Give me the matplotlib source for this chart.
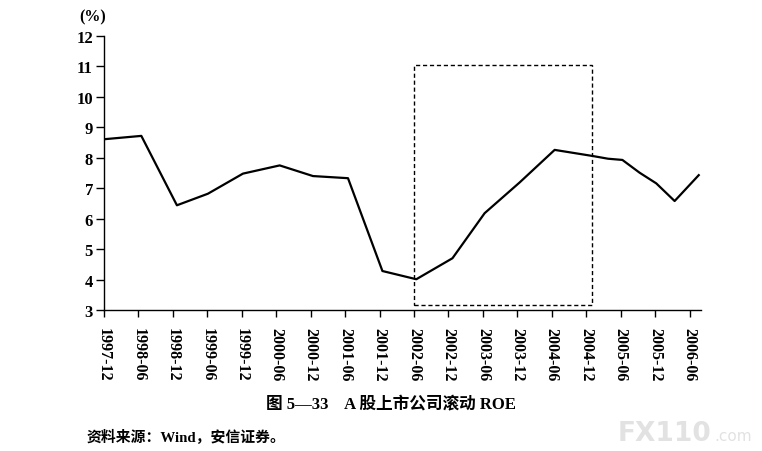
import matplotlib.pyplot as plt
from matplotlib.patches import Rectangle

plt.rcParams['font.family'] = ['Liberation Serif', 'Noto Sans CJK SC']

# x 轴：从 1997-12 起的月数
tick_labels = ['1997-12', '1998-06', '1998-12', '1999-06', '1999-12', '2000-06',
               '2000-12', '2001-06', '2001-12', '2002-06', '2002-12', '2003-06',
               '2003-12', '2004-06', '2004-12', '2005-06', '2005-12', '2006-06']
tick_months = [6 * i for i in range(len(tick_labels))]

months = [0, 6.5, 12.7, 18.1, 24.2, 30.6, 36.4, 42.5, 48.5, 54.4, 60.7, 66.3,
          72.4, 78.5, 85.1, 87.8, 90.3, 93.3, 96.2, 99.4, 103.6]
roe = [8.61, 8.72, 6.44, 6.82, 7.48, 7.75, 7.40, 7.33, 4.28, 4.01, 4.70, 6.18,
       7.19, 8.26, 8.06, 7.97, 7.93, 7.51, 7.16, 6.58, 7.43]

# 虚线框范围
box_x = [54, 85]
box_y = [3.16, 11.06]

fig = plt.figure(figsize=(7.62, 4.52), dpi=100)
ax = fig.add_axes([0.1365, 0.312, 0.7835, 0.606])

ax.plot(months, roe, color='black', linewidth=1.6)
ax.add_patch(Rectangle((box_x[0], box_y[0]), box_x[1] - box_x[0], box_y[1] - box_y[0],
                       fill=False, edgecolor='black', linestyle=(0, (3, 2)), linewidth=1.0))

ax.set_xlim(0, 104)
ax.set_ylim(3, 12)
ax.set_yticks(range(3, 13))
ax.set_xticks(tick_months)
ax.set_xticklabels(tick_labels, rotation=-90, fontsize=11.5)
ax.tick_params(axis='x', length=5, pad=7, width=1)
ax.tick_params(axis='y', length=6, pad=2, width=1, labelsize=12)
for lab in ax.get_yticklabels():
    lab.set_fontweight('bold')
for lab in ax.get_xticklabels():
    lab.set_fontweight('semibold')

for s in ['top', 'right']:
    ax.spines[s].set_visible(False)
for s in ['left', 'bottom']:
    ax.spines[s].set_linewidth(1.0)

fig.text(0.121, 0.961, '(%)', ha='center', va='center', fontsize=11.5, fontweight='bold')
fig.text(0.513, 0.104, '图 5—33    A 股上市公司滚动 ROE', ha='center', va='center',
         fontsize=12, fontweight='bold')
fig.text(0.114, 0.033, '资料来源：Wind，安信证券。', ha='left', va='center',
         fontsize=10.7, fontweight='bold')
fig.text(0.934, 0.04, 'FX110', ha='right', va='center', fontsize=19,
         fontweight='bold', color='#e2e2e2', family='DejaVu Sans')
fig.text(0.937, 0.035, '.com', ha='left', va='center', fontsize=11,
         color='#e2e2e2', family='DejaVu Sans')

fig.savefig('out.png', dpi=100)
